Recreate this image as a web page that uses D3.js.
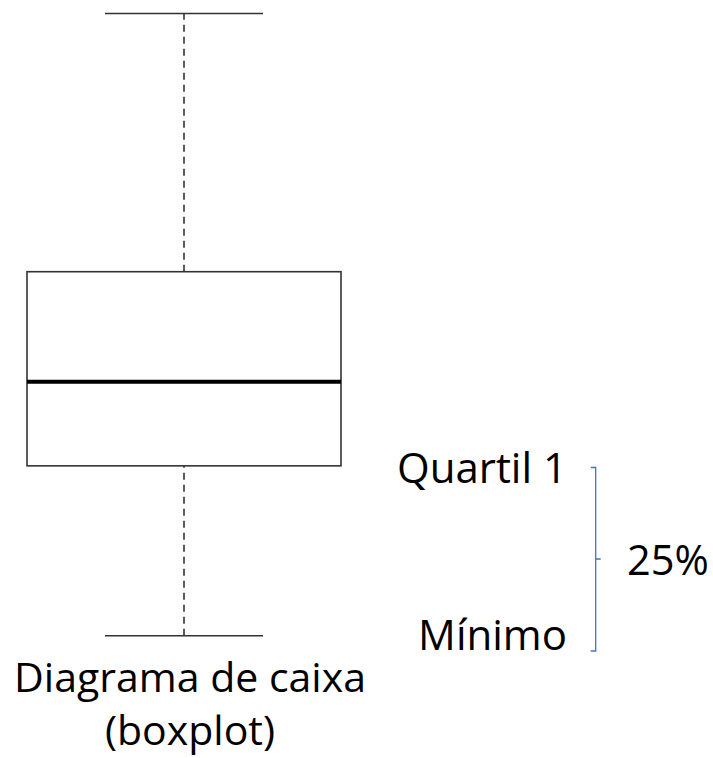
<!DOCTYPE html>
<html>
<head>
<meta charset="utf-8">
<script src="https://cdn.jsdelivr.net/npm/d3@7"></script>
<style>
  body { margin: 0; background: #fff; }
  text { font-family: "Open Sans", sans-serif; fill: #000; }
</style>
</head>
<body>
<svg id="chart" width="713" height="758"></svg>
<script>
// five-number summary (arbitrary units, 0 = minimum, 100 = maximum)
var stats = [0, 27.3, 40.8, 58.5, 100];   // min, q1, median, q3, max
var statNames = ["min", "q1", "median", "q3", "max"];
var captionLines = ["Diagrama de caixa", "(boxplot)"];
var sideLabels = ["Quartil 1", "Mínimo"];
var braceLabel = "25%";

var svg = d3.select("#chart");

var y = d3.scaleLinear()
    .domain([0, 100])
    .range([635.7, 13.5]);

var x = d3.scaleBand()
    .domain(["boxplot"])
    .range([27, 341])
    .padding(0);

var cx = x("boxplot") + x.bandwidth() / 2,
    capHalf = 79;

var s = {};
stats.forEach(function (v, i) { s[statNames[i]] = v; });

var g = svg.append("g");

// whiskers (dashed)
g.selectAll("line.whisker")
    .data([[s.q3, s.max], [s.min, s.q1]])
    .enter().append("line")
    .attr("class", "whisker")
    .attr("x1", cx).attr("x2", cx)
    .attr("y1", function (d) { return y(d[0]); })
    .attr("y2", function (d) { return y(d[1]); })
    .attr("stroke", "#333")
    .attr("stroke-width", 1.6)
    .attr("stroke-dasharray", "7,5");

// caps
g.selectAll("line.cap")
    .data([s.min, s.max])
    .enter().append("line")
    .attr("class", "cap")
    .attr("x1", cx - capHalf).attr("x2", cx + capHalf)
    .attr("y1", function (d) { return y(d); })
    .attr("y2", function (d) { return y(d); })
    .attr("stroke", "#333")
    .attr("stroke-width", 1.6);

// box
g.append("rect")
    .attr("x", x("boxplot"))
    .attr("y", y(s.q3))
    .attr("width", x.bandwidth())
    .attr("height", y(s.q1) - y(s.q3))
    .attr("fill", "none")
    .attr("stroke", "#333")
    .attr("stroke-width", 1.6);

// median
g.append("line")
    .attr("x1", x("boxplot")).attr("x2", x("boxplot") + x.bandwidth())
    .attr("y1", y(s.median)).attr("y2", y(s.median))
    .attr("stroke", "#000")
    .attr("stroke-width", 4);

// caption under the box
svg.append("text")
    .attr("x", cx + 6)
    .attr("y", 692)
    .attr("text-anchor", "middle")
    .attr("font-size", 41)
    .selectAll("tspan")
    .data(captionLines)
    .enter().append("tspan")
    .attr("x", cx + 6)
    .attr("dy", function (d, i) { return i ? 53 : 0; })
    .text(function (d) { return d; });

// side labels
var labelY = [483, 650];
svg.selectAll("text.side")
    .data(sideLabels)
    .enter().append("text")
    .attr("class", "side")
    .attr("x", 567)
    .attr("y", function (d, i) { return labelY[i]; })
    .attr("text-anchor", "end")
    .attr("font-size", 42)
    .text(function (d) { return d; });

// brace
var bx = 595.7, bTop = 467.5, bBot = 651, bMid = 559;
svg.append("path")
    .attr("d", "M" + (bx - 5) + "," + bTop + "H" + bx + "V" + bBot + "H" + (bx - 5) +
        "M" + bx + "," + bMid + "H" + (bx + 5))
    .attr("fill", "none")
    .attr("stroke", "#4472C4")
    .attr("stroke-width", 1.3);

svg.append("text")
    .attr("x", 627)
    .attr("y", 575)
    .attr("font-size", 41.5)
    .text(braceLabel);
</script>
</body>
</html>
